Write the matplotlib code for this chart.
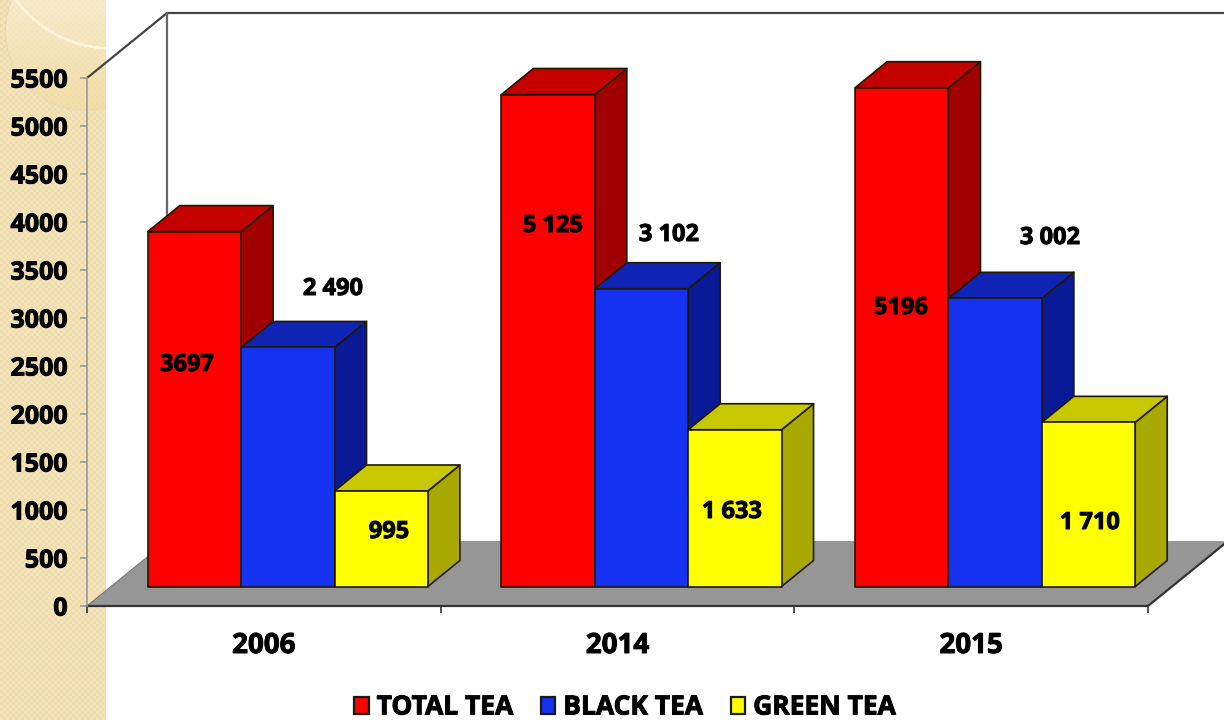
import numpy as np
import matplotlib
matplotlib.use("Agg")
import matplotlib.pyplot as plt
import matplotlib.patheffects as pe
from matplotlib.patches import Patch, Polygon
from matplotlib.transforms import Affine2D

years = ["2006", "2014", "2015"]
series_names = ["TOTAL TEA", "BLACK TEA", "GREEN TEA"]
total_tea = [3697, 5125, 5196]
black_tea = [2490, 3102, 3002]
green_tea = [995, 1633, 1710]
y_ticks = list(range(0, 5501, 500))

total_labels = ["3697", "5 125", "5196"]
black_labels = ["2 490", "3 102", "3 002"]
green_labels = ["995", "1 633", "1 710"]

# label centres in pixels, from the top left corner of the figure
total_label_pos = [(187, 365), (553, 226), (901, 308)]
black_label_pos = [(333, 289), (669, 235), (1050, 238)]
green_label_pos = [(389, 532), (732, 512), (1090, 523)]

FRONT = ["#ff0000", "#1432f0", "#ffff00"]
SIDE = ["#a00000", "#0a1a96", "#a8a800"]
TOP = ["#c40000", "#0f24b4", "#c8c800"]
FONT = "Open Sans"

W, H = 1224, 720
LEFT, RIGHT, BASE, CEIL = 87, 1148, 606, 78

# the 3D box shift, in data units, from the front plane to the back wall
DX = 80 / ((RIGHT - LEFT) / 3)
DY = 65 / ((BASE - CEIL) / 5500)
BAR_W = 0.264
GAP = 0.104

# thickens the bold face a little
HEAVY = [pe.withStroke(linewidth=0.7, foreground="black")]


def shift(x, v, depth):
    return x + depth * DX, v + depth * DY


def draw_bar(ax, x, value, i):
    near, far = 0.3, 0.7
    x2 = x + BAR_W
    front = [shift(x, 0, near), shift(x2, 0, near), shift(x2, value, near), shift(x, value, near)]
    side = [shift(x2, 0, near), shift(x2, 0, far), shift(x2, value, far), shift(x2, value, near)]
    top = [shift(x, value, near), shift(x2, value, near), shift(x2, value, far), shift(x, value, far)]
    for pts, color in ((side, SIDE[i]), (top, TOP[i]), (front, FRONT[i])):
        ax.add_patch(Polygon(pts, closed=True, fc=color, ec="#201a00", lw=1.2,
                             joinstyle="round", clip_on=False, zorder=3))


def panel_image():
    # checkered strip down the left side with a faint ring in the corner
    h, w = H, 106
    yy, xx = np.mgrid[0:h, 0:w]
    img = np.zeros((h, w, 3))
    img[:] = (244, 228, 190)
    check = ((xx // 3 + yy // 3) % 2 == 0)
    img[check] = (239, 219, 172)

    r = np.hypot(xx - 85, yy - 30)
    inside = r < 80
    t = np.clip(yy / 110, 0, 1)[..., None]
    ring = (1 - t) * np.array([250, 240, 214]) + t * np.array([241, 219, 160])
    img[inside] = (img * 0.35 + ring * 0.65)[inside]
    edge = np.abs(r - 80) < 0.7
    img[edge] = img[edge] * 0.5 + np.array([230, 212, 170]) * 0.5

    # pale curved streak across the ring
    arc = np.hypot(xx - 112, yy + 72)
    img[(np.abs(arc - 120) < 1.3) & (yy < 50)] = (252, 244, 220)
    return img.astype(np.uint8)


fig = plt.figure(figsize=(W / 100, H / 100), dpi=100, facecolor="white")

bg = fig.add_axes([0, 0, 106 / W, 1])
bg.imshow(panel_image(), aspect="auto", interpolation="bilinear")
bg.axis("off")

ax = fig.add_axes([LEFT / W, 1 - BASE / H, (RIGHT - LEFT) / W, (BASE - CEIL) / H])
ax.patch.set_alpha(0)
ax.set_xlim(0, 3)
ax.set_ylim(0, 5500)

# floor and back wall
ax.add_patch(Polygon([shift(0, 0, 0), shift(3, 0, 0), shift(3, 0, 1), shift(0, 0, 1)],
                     closed=True, fc="#969696", ec="none", clip_on=False, zorder=1))
wall_x = [shift(0, 5500, 0)[0], shift(0, 5500, 1)[0], shift(3, 5500, 1)[0]]
wall_y = [shift(0, 5500, 0)[1], shift(0, 5500, 1)[1], shift(3, 5500, 1)[1]]
ax.plot(wall_x, wall_y, color="#444444", lw=1.6, clip_on=False, zorder=1)
ax.plot([shift(0, 0, 1)[0]] * 2, [shift(0, 0, 1)[1], shift(0, 5500, 1)[1]],
        color="#666666", lw=1.6, clip_on=False, zorder=1)
ax.plot([shift(3, 0, 0)[0], shift(3, 0, 1)[0]], [0, DY], color="#333333", lw=1.6,
        clip_on=False, zorder=2)
ax.plot([0, DX], [0, DY], color="#777777", lw=0.8, clip_on=False, zorder=2)

for i, values in enumerate((total_tea, black_tea, green_tea)):
    for j, value in enumerate(values):
        draw_bar(ax, j + GAP + i * BAR_W, value, i)

# axes furniture
for name in ("top", "right"):
    ax.spines[name].set_visible(False)
ax.spines["left"].set_color("#9a9a9a")
ax.spines["left"].set_linewidth(1.2)
ax.spines["bottom"].set_color("#333333")
ax.spines["bottom"].set_linewidth(1.6)
ax.spines["bottom"].set_zorder(2)

ax.set_yticks(y_ticks)
ax.set_yticklabels([str(t) for t in y_ticks], fontfamily=FONT, fontweight="bold",
                   fontsize=18, color="black", path_effects=HEAVY)
ax.tick_params(axis="y", length=5, width=1.2, color="#9a9a9a", pad=9)

ax.set_xticks([0, 1, 2, 3])
ax.set_xticklabels([])
ax.tick_params(axis="x", which="major", length=5, width=1.2, color="#333333")
ax.set_xticks([0.5, 1.5, 2.5], minor=True)
ax.set_xticklabels(years, minor=True, fontfamily=FONT, fontweight="bold",
                   fontsize=20, color="black", path_effects=HEAVY)
ax.tick_params(axis="x", which="minor", length=0, pad=18)

# value labels sit at fixed pixel spots, some of them away from their bars
px = Affine2D().scale(1, -1).translate(0, H)
for labels, spots in ((total_labels, total_label_pos), (black_labels, black_label_pos),
                      (green_labels, green_label_pos)):
    for text, (x, y) in zip(labels, spots):
        ax.text(x, y, text, transform=px, ha="center", va="center", fontfamily=FONT,
                fontweight="bold", fontsize=17, color="black", zorder=5, clip_on=False,
                path_effects=HEAVY)

handles = [Patch(fc=c, ec="#1a1a1a", lw=1.6) for c in FRONT]
legend = fig.legend(handles, series_names, loc="center", bbox_to_anchor=(625 / W, 1 - 707 / H),
                    ncol=3, frameon=False, handlelength=0.55, handleheight=0.6, handletextpad=0.3,
                    columnspacing=1.05, prop={"family": FONT, "weight": "bold", "size": 19})
for t in legend.get_texts():
    t.set_path_effects(HEAVY)

fig.savefig("out.png", dpi=100)
